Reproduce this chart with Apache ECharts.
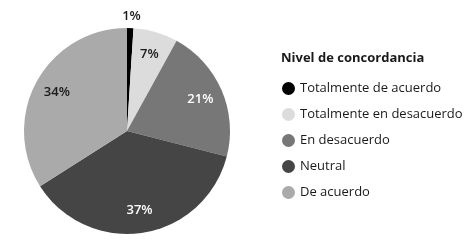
<!DOCTYPE html>
<html>
<head>
<meta charset="utf-8">
<script src="https://cdn.jsdelivr.net/npm/echarts@6/dist/echarts.min.js"></script>
<style>
html,body{margin:0;padding:0;background:#fff;}
#chart{width:472px;height:246px;}
</style>
</head>
<body>
<div id="chart"></div>
<script>
var categories = ['Totalmente de acuerdo', 'Totalmente en desacuerdo', 'En desacuerdo', 'Neutral', 'De acuerdo'];
var values = [1, 7, 21, 37, 34];
var colors = ['#000000', '#dcdcdc', '#777777', '#454545', '#aaaaaa'];
var labelColors = ['#1a1a1a', '#1a1a1a', '#ffffff', '#ffffff', '#1a1a1a'];

var fontFam = '"Open Sans", "Noto Sans", sans-serif';
var center = [127, 131];

var pieData = categories.map(function(c, i) {
	return { name: c, value: values[i], itemStyle: { color: colors[i] } };
});
// tiny slice: push its label up above the pie
var labelData = categories.map(function(c, i) {
	var d = {
		name: c,
		value: values[i],
		label: { color: labelColors[i] }
	};
	if (values[i] < 3) {
		d.label.offset = [2, -35];
	}
	return d;
});

var chart = echarts.init(document.getElementById('chart'));
chart.setOption({
	animation: false,
	title: {
		text: 'Nivel de concordancia',
		left: 276,
		top: 47,
		textStyle: { fontFamily: fontFam, fontSize: 13, fontWeight: 'bold', color: '#1a1a1a' }
	},
	legend: {
		orient: 'vertical',
		left: 277,
		top: 77,
		icon: 'circle',
		itemWidth: 13,
		itemHeight: 13,
		itemGap: 13,
		data: categories,
		textStyle: { fontFamily: fontFam, fontSize: 13, color: '#1a1a1a' }
	},
	series: [{
		type: 'pie',
		center: center,
		radius: [0, 103],
		startAngle: 90,
		clockwise: true,
		label: { show: false },
		labelLine: { show: false },
		data: pieData
	}, {
		type: 'pie',
		center: center,
		radius: [51, 103],
		startAngle: 90,
		clockwise: true,
		silent: true,
		legendHoverLink: false,
		itemStyle: { color: 'rgba(0,0,0,0)' },
		label: {
			show: true,
			position: 'inside',
			formatter: '{c}%',
			fontFamily: fontFam,
			fontSize: 13,
			fontWeight: 600
		},
		labelLine: { show: false },
		data: labelData
	}]
});
</script>
</body>
</html>
